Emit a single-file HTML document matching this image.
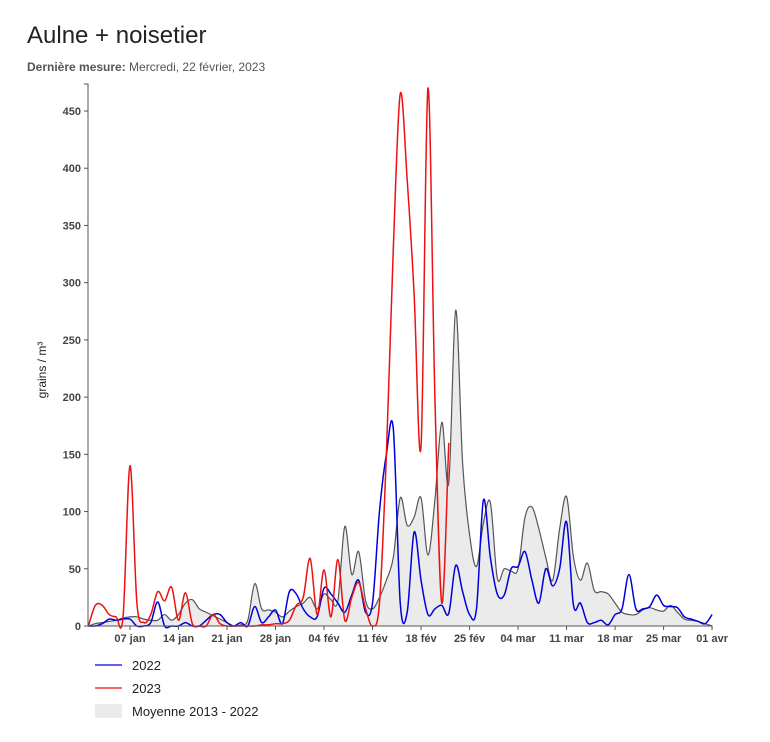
<!DOCTYPE html>
<html><head><meta charset="utf-8">
<style>
body{margin:0;background:#fff;font-family:"Liberation Sans",Arial,sans-serif;}
#wrap{position:relative;width:770px;height:742px;}
h1{position:absolute;left:27px;top:22px;margin:0;font-size:24px;font-weight:normal;color:#222;}
#sub{position:absolute;left:27px;top:60px;font-size:12px;color:#555;}
#sub b{color:#555;}
svg{position:absolute;left:0;top:0;}
</style></head><body>
<div id="wrap">
<h1>Aulne + noisetier</h1>
<div id="sub"><b>Dernière mesure:</b> Mercredi, 22 février, 2023</div>
<svg id="chart" width="770" height="742"></svg>
</div>
<script>
const yTicks=[0,50,100,150,200,250,300,350,400,450];
const xTickDays=[6,13,20,27,34,41,48,55,62,69,76,83,90];
const xTickLabels=["07 jan","14 jan","21 jan","28 jan","04 fév","11 fév","18 fév","25 fév","04 mar","11 mar","18 mar","25 mar","01 avr"];
const avg=[0,2,3,4,5,7,8,8,6,5,5,10,5,10,20,23,15,12,9,6,3,0,1,5,37,15,14,12,8,13,17,20,25,15,28,23,22,87,45,65,22,15,25,40,60,112,88,95,112,62,110,178,125,276,142,80,52,90,108,42,50,48,50,95,104,85,60,40,85,113,60,40,55,31,30,28,20,12,10,10,14,16,14,13,18,12,6,5,4,2,0];
const y2022=[0,0,2,6,5,6,6,0,0,3,21,0,0,0,3,0,0,5,10,10,3,0,3,0,17,3,8,14,2,30,28,15,8,8,33,28,20,12,27,40,12,20,100,150,172,20,12,82,40,10,15,18,11,53,30,10,15,110,60,28,27,50,52,65,40,20,50,35,50,91,18,20,3,3,5,1,10,15,45,15,15,17,27,18,17,16,8,6,4,2,10];
const y2023=[0,18,18,10,8,8,140,20,3,10,30,22,34,5,29,2,0,0,10,2,0,0,0,0,0,1,1,2,2,5,18,25,59,10,49,8,58,5,25,38,15,0,20,150,330,465,390,290,157,470,200,20,160];
const NS="http://www.w3.org/2000/svg";
const svg=document.getElementById('chart');
const X0=88.4,DX=6.93,Y0=626,KY=(626-111)/450;
const xs=d=>X0+d*DX, ys=v=>Y0-v*KY;
function mk(tag,at){const e=document.createElementNS(NS,tag);for(const k in at)e.setAttribute(k,at[k]);svg.appendChild(e);return e;}
function curve(arr){
  const p=arr.map((v,i)=>[xs(i),ys(v)]);
  let d=`M${p[0][0]},${p[0][1]}`;
  for(let i=0;i<p.length-1;i++){
    const a=p[Math.max(0,i-1)],b=p[i],c=p[i+1],e=p[Math.min(p.length-1,i+2)];
    const t=0.5/3*1.0;
    const c1=[b[0]+(c[0]-a[0])/6,b[1]+(c[1]-a[1])/6],c2=[c[0]-(e[0]-b[0])/6,c[1]-(e[1]-b[1])/6];
    d+=` C${c1[0]},${c1[1]} ${c2[0]},${c2[1]} ${c[0]},${c[1]}`;
  }
  return d;
}
// area
const ap=curve(avg)+` L${xs(avg.length-1)},${Y0} L${xs(0)},${Y0} Z`;
let el=mk('path',{d:ap,fill:'#ebebeb',stroke:'none'});


el=mk('path',{d:curve(avg),fill:'none',stroke:'#555',"stroke-width":1.2});


el=mk('path',{d:curve(y2022),fill:'none',stroke:'#0000dd',"stroke-width":1.5});


el=mk('path',{d:curve(y2023),fill:'none',stroke:'#ee1111',"stroke-width":1.5});


// axes
el=mk('path',{d:`M84,84 H88 V626 H712 V630`,fill:'none',stroke:'#555',"stroke-width":1});


yTicks.forEach(v=>{
  const l=mk('line',{x1:84,x2:88,y1:ys(v),y2:ys(v),stroke:'#555'});
  
  
  const t=mk('text',{x:81,y:ys(v)+4,"text-anchor":"end","font-size":11,"font-weight":"bold",fill:'#444'});
  t.textContent=v;
  
  
});
xTickDays.forEach((d,i)=>{
  const l=mk('line',{x1:xs(d),x2:xs(d),y1:626,y2:630,stroke:'#555'});
  
  
  const t=mk('text',{x:xs(d),y:642,"text-anchor":"middle","font-size":11,"font-weight":"bold",fill:'#444'});
  t.textContent=xTickLabels[i];
  
  
});
el=mk('text',{x:0,y:0,transform:'translate(46,370) rotate(-90)',"text-anchor":"middle","font-size":12,fill:'#222'});
el.textContent='grains / m³';


// legend
const legs=[["2022","#0000dd",665],["2023","#ee1111",688]];
legs.forEach(([n,c,y])=>{
  const l=mk('line',{x1:95,x2:122,y1:y,y2:y,stroke:c,"stroke-width":1.2});
  
  
  const t=mk('text',{x:132,y:y+5,"font-size":13,fill:'#222'});
  t.textContent=n;
  
  
});
el=mk('rect',{x:95,y:704,width:27,height:14,fill:'#ebebeb'});


el=mk('text',{x:132,y:716,"font-size":13,fill:'#222'});
el.textContent='Moyenne 2013 - 2022';


</script>
</body></html>
